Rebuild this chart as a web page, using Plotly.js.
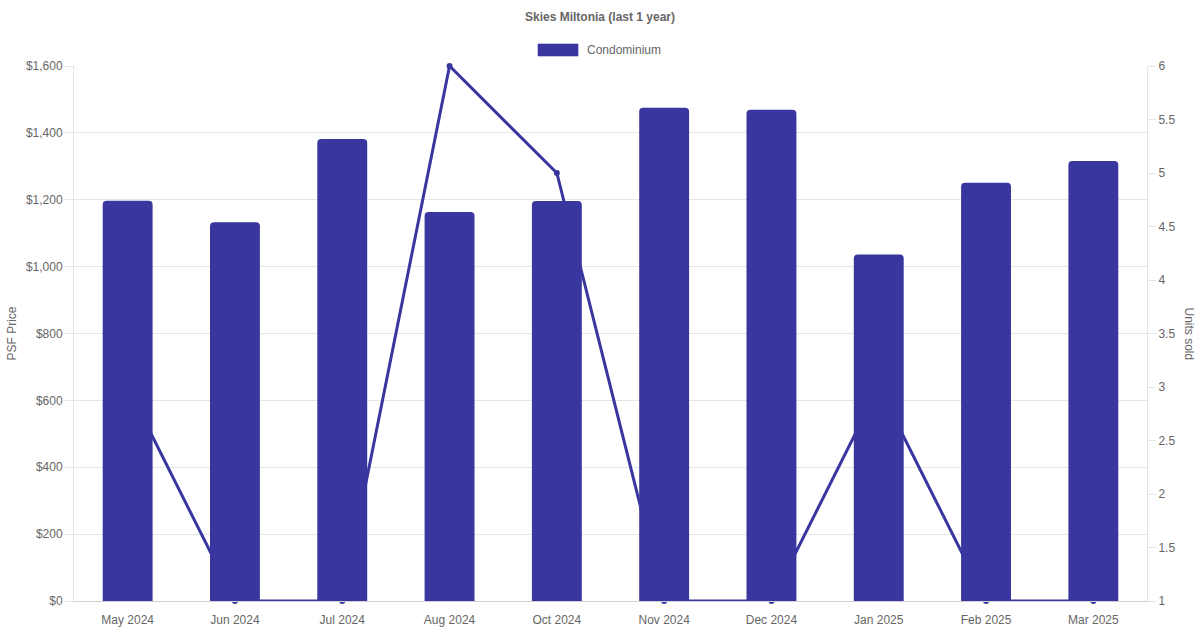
<!DOCTYPE html>
<html>
<head>
<meta charset="utf-8">
<script src="https://cdn.plot.ly/plotly-3.0.1.min.js"></script>
<style>html,body{margin:0;padding:0;background:#fff;}#chart{width:1200px;height:630px;}</style>
</head>
<body>
<div id="chart"></div>
<script>
const months = ["May 2024","Jun 2024","Jul 2024","Aug 2024","Oct 2024","Nov 2024","Dec 2024","Jan 2025","Feb 2025","Mar 2025"];
const psfPrice = [1197,1133,1382,1163,1196,1475,1469,1036,1251,1316];
const unitsSold = [3,1,1,6,5,1,1,3,1,1];
const seriesName = "Condominium";
const chartTitle = "Skies Miltonia (last 1 year)";

const color = "rgb(57,54,160)";
const font = {family: "Liberation Sans, Arial, sans-serif", size: 12, color: "#666"};

const traces = [
  {
    type: "scatter", mode: "lines+markers", x: months, y: unitsSold, yaxis: "y",
    line: {color: color, width: 3}, marker: {color: color, size: 6},
    showlegend: false, cliponaxis: false, hoverinfo: "x+y"
  },
  {
    type: "bar", x: months, y: psfPrice, yaxis: "y2", name: seriesName,
    marker: {color: color, cornerradius: 4}, showlegend: false
  }
];

const layout = {
  width: 1200, height: 630,
  margin: {l: 74, r: 53, t: 66, b: 29},
  paper_bgcolor: "#fff", plot_bgcolor: "#fff",
  font: font,
  bargap: 0.535,
  showlegend: false,
  title: {text: "<b>" + chartTitle + "</b>", x: 0.5, xanchor: "center", y: 1 - 17/630, yanchor: "middle", font: {family: font.family, size: 12, color: "#666"}},
  xaxis: {
    type: "category", range: [-0.5, months.length - 0.5], autorange: false,
    showgrid: false, zeroline: false,
    showline: true, linecolor: "#d0d0d0", linewidth: 1,
    ticks: "outside", ticklen: 8, tickcolor: "rgba(0,0,0,0)",
    tickfont: font
  },
  yaxis: {
    side: "right", range: [1, 6], dtick: 0.5, tick0: 1,
    showgrid: false, zeroline: false,
    showline: true, linecolor: "#e5e5e5",
    ticks: "outside", ticklen: 8, tickcolor: "#e5e5e5",
    tickfont: font
  },
  yaxis2: {
    overlaying: "y", side: "left", range: [0, 1600], dtick: 200,
    tickprefix: "$", tickformat: ",d",
    showgrid: true, gridcolor: "#e5e5e5", zeroline: false,
    showline: true, linecolor: "#e5e5e5",
    ticks: "outside", ticklen: 8, tickcolor: "#e5e5e5",
    tickfont: font
  },
  shapes: [
    {type: "rect", xref: "paper", yref: "paper",
     x0: (538 - 74) / 1073, x1: (578 - 74) / 1073,
     y0: (630 - 29 - 56) / 535, y1: (630 - 29 - 44) / 535,
     fillcolor: color, line: {color: "rgba(57,54,160,0.6)", width: 1}}
  ],
  annotations: [
    {text: seriesName, xref: "paper", yref: "paper", x: (585 - 74) / 1073, y: (630 - 29 - 50) / 535,
     xanchor: "left", yanchor: "middle", showarrow: false, font: {family: font.family, size: 12, color: "#666"}},
    {text: "PSF Price", xref: "paper", yref: "paper", x: (11 - 74) / 1073, y: 0.5,
     xanchor: "center", yanchor: "middle", textangle: -90, showarrow: false, font: font},
    {text: "Units sold", xref: "paper", yref: "paper", x: (1189 - 74) / 1073, y: 0.5,
     xanchor: "center", yanchor: "middle", textangle: 90, showarrow: false, font: font}
  ]
};

Plotly.newPlot("chart", traces, layout, {displayModeBar: false, staticPlot: true});
</script>
</body>
</html>
